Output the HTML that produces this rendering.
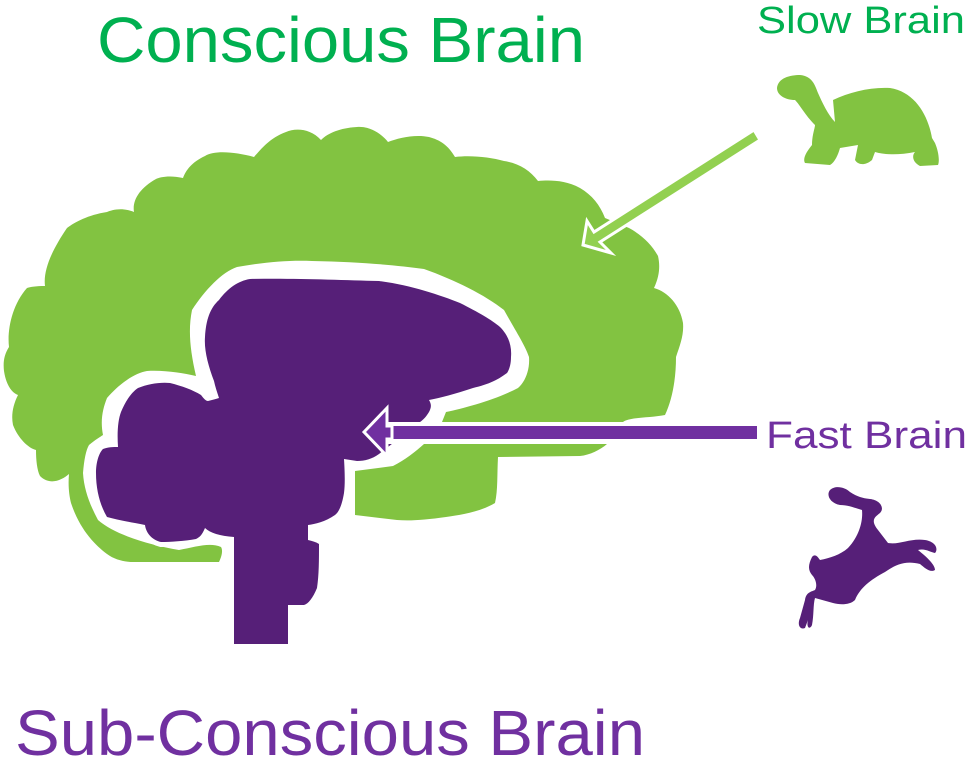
<!DOCTYPE html>
<html><head><meta charset="utf-8"><style>
html,body{margin:0;padding:0;background:#fff;width:968px;height:759px;overflow:hidden}
svg{display:block}
text{font-family:"Liberation Sans",sans-serif}
</style></head><body>
<svg width="968" height="759" viewBox="0 0 968 759" xmlns="http://www.w3.org/2000/svg">
<text x="97" y="62" font-size="64" fill="#00b050" textLength="488" lengthAdjust="spacingAndGlyphs">Conscious Brain</text>
<text x="757" y="33" font-size="38" fill="#00b050" textLength="208" lengthAdjust="spacingAndGlyphs">Slow Brain</text>
<text x="766" y="448" font-size="38" fill="#7030a0" textLength="201" lengthAdjust="spacingAndGlyphs">Fast Brain</text>
<text x="15" y="755" font-size="64" fill="#7030a0" textLength="630" lengthAdjust="spacingAndGlyphs">Sub-Conscious Brain</text>

<path fill="#82c341" d="M321,140 C310,128 295,128 286,132 C270,138 262,148 254,157 C235,152 215,150 205,156 C192,162 186,170 183,178 C170,175 160,177 156,179 C140,188 132,200 134,212 C122,207 112,210 107,212 C88,215 75,222 67,228 C52,250 43,270 45,286 C36,286 30,287 27,288 C12,305 7,330 9,347 C4,355 3,362 4,371 C6,385 12,393 18,395 C13,405 11,415 13,425 C18,438 28,448 36,450 C36,460 37,470 40,476 C50,486 62,480 69,474 C68,485 69,495 71,503 C80,530 95,545 107,554 C115,560 125,562 134,562 L219,562 C222,556 223,550 221,547 C210,542 195,547 179,550 C150,545 115,535 98,520 C90,505 84,490 83,473 C84,460 86,450 89,445 C95,440 100,437 103,435 C100,420 103,408 107,398 C120,383 135,373 147,371 C165,370 182,373 196,376 C190,350 188,330 192,310 C205,290 222,272 237,267 C265,262 290,260 312,261 C360,262 395,265 424,269 C455,280 485,295 504,310 C515,330 525,345 529,357 C530,370 525,382 518,388 C495,400 465,408 446,412 L442,422 L607,444 C600,450 590,455 580,456 L498,457 C497,475 498,490 495,503 C480,512 460,515 446,517 C425,520 410,521 397,520 L355,515 L355,471 L393,466 C405,460 415,452 424,444 L442,422 L623,422 C630,417 650,418 665,415 C672,400 676,380 676,357 C680,345 684,335 683,323 C680,305 668,292 654,288 C660,275 660,265 658,256 C652,245 642,235 629,228 L605,218 C600,205 592,195 580,188 C565,180 550,180 538,181 C530,170 518,163 504,161 C490,157 470,155 455,157 C448,145 440,140 429,137 C415,134 398,138 388,142 C380,132 368,126 357,127 C340,128 328,133 321,140 Z"/>

<path fill="#561f78" stroke="#fff" stroke-width="10" stroke-linejoin="round" d="M214,381 C208,365 204,350 205,337 C206,320 210,308 219,300 C228,288 238,281 250,279 C290,278 340,280 379,281 C410,285 440,295 460,303 C478,312 492,320 500,327 C508,335 512,345 511,357 C511,365 509,370 507,373 C495,382 485,385 473,388 C455,394 440,398 429,400 C432,405 431,408 429,412 C426,417 423,420 420,422 L379,454 C372,459 365,461 357,461 L344,459 C345,475 345,485 344,493 C342,505 339,512 335,515 C325,522 315,524 308,525 L308,540 C312,541 316,542 319,544 C319,560 319,575 317,588 C313,598 308,604 304,605 L288,605 L288,644 L234,644 L234,537 C220,536 210,533 205,528 C202,535 200,537 196,539 C185,541 170,542 161,542 C152,540 146,533 145,525 C130,522 118,520 107,517 C100,505 96,490 96,473 C96,462 99,453 103,449 C108,447 113,447 118,447 C117,432 118,420 121,412 C126,400 132,392 138,388 C148,384 160,382 170,383 C182,386 193,390 201,395 C204,399 206,401 208,401 C212,400 216,399 219,398 C217,392 215,386 214,381 Z"/>
<path fill="#561f78" d="M214,381 C208,365 204,350 205,337 C206,320 210,308 219,300 C228,288 238,281 250,279 C290,278 340,280 379,281 C410,285 440,295 460,303 C478,312 492,320 500,327 C508,335 512,345 511,357 C511,365 509,370 507,373 C495,382 485,385 473,388 C455,394 440,398 429,400 C432,405 431,408 429,412 C426,417 423,420 420,422 L379,454 C372,459 365,461 357,461 L344,459 C345,475 345,485 344,493 C342,505 339,512 335,515 C325,522 315,524 308,525 L308,540 C312,541 316,542 319,544 C319,560 319,575 317,588 C313,598 308,604 304,605 L288,605 L288,644 L234,644 L234,537 C220,536 210,533 205,528 C202,535 200,537 196,539 C185,541 170,542 161,542 C152,540 146,533 145,525 C130,522 118,520 107,517 C100,505 96,490 96,473 C96,462 99,453 103,449 C108,447 113,447 118,447 C117,432 118,420 121,412 C126,400 132,392 138,388 C148,384 160,382 170,383 C182,386 193,390 201,395 C204,399 206,401 208,401 C212,400 216,399 219,398 C217,392 215,386 214,381 Z"/>

<!-- green arrow -->
<polygon points="583,245 587,221 594,232 754,130 760,140 600,242 611,253" fill="#92d050" stroke="#fff" stroke-width="3" stroke-linejoin="miter"/>
<!-- purple arrow -->
<rect x="380" y="422" width="382" height="22" fill="#fff"/>
<rect x="382" y="426" width="375" height="13" fill="#7030a0"/>
<polygon points="364,432 387,408 387,426 392,426 392,439 387,439 387,456" fill="#7030a0" stroke="#fff" stroke-width="3"/>

<!-- tortoise -->
<path fill="#82c341" d="M777,88 C778,78 790,75 800,75 C812,76 815,85 818,93 C822,102 828,115 835,122 L833,100 C850,92 870,87 890,88 C915,92 928,115 932,138 L935,143 C938,150 940,160 938,165 L920,166 C912,162 912,155 915,152 C900,155 885,155 875,152 L872,160 C865,166 858,165 855,160 L858,145 L840,148 C838,155 835,162 830,165 L805,163 C802,158 808,150 812,145 C812,135 815,128 815,125 C805,115 800,105 795,100 C785,100 777,95 777,88 Z"/>
<!-- rabbit -->
<path fill="#561f78" d="M830,490 C835,485 845,487 850,492 C858,497 862,498 870,499 C880,500 885,508 880,513 C875,517 870,520 878,530 L888,543 C900,545 910,538 925,540 C937,542 938,550 935,553 C930,552 925,548 918,550 C928,558 935,565 935,570 C930,573 925,568 920,564 C905,560 895,565 885,572 C870,580 860,588 855,600 C850,605 840,605 833,603 L815,598 C813,605 814,615 812,625 C810,630 806,628 808,620 L805,628 C800,630 797,625 800,618 L805,600 C806,593 810,592 815,590 C818,585 815,578 812,575 C808,570 808,565 812,557 C815,553 818,557 820,560 C830,558 840,555 848,548 C860,535 863,520 862,510 C855,508 848,505 840,505 C830,503 826,495 830,490 Z"/>
</svg>
</body></html>
